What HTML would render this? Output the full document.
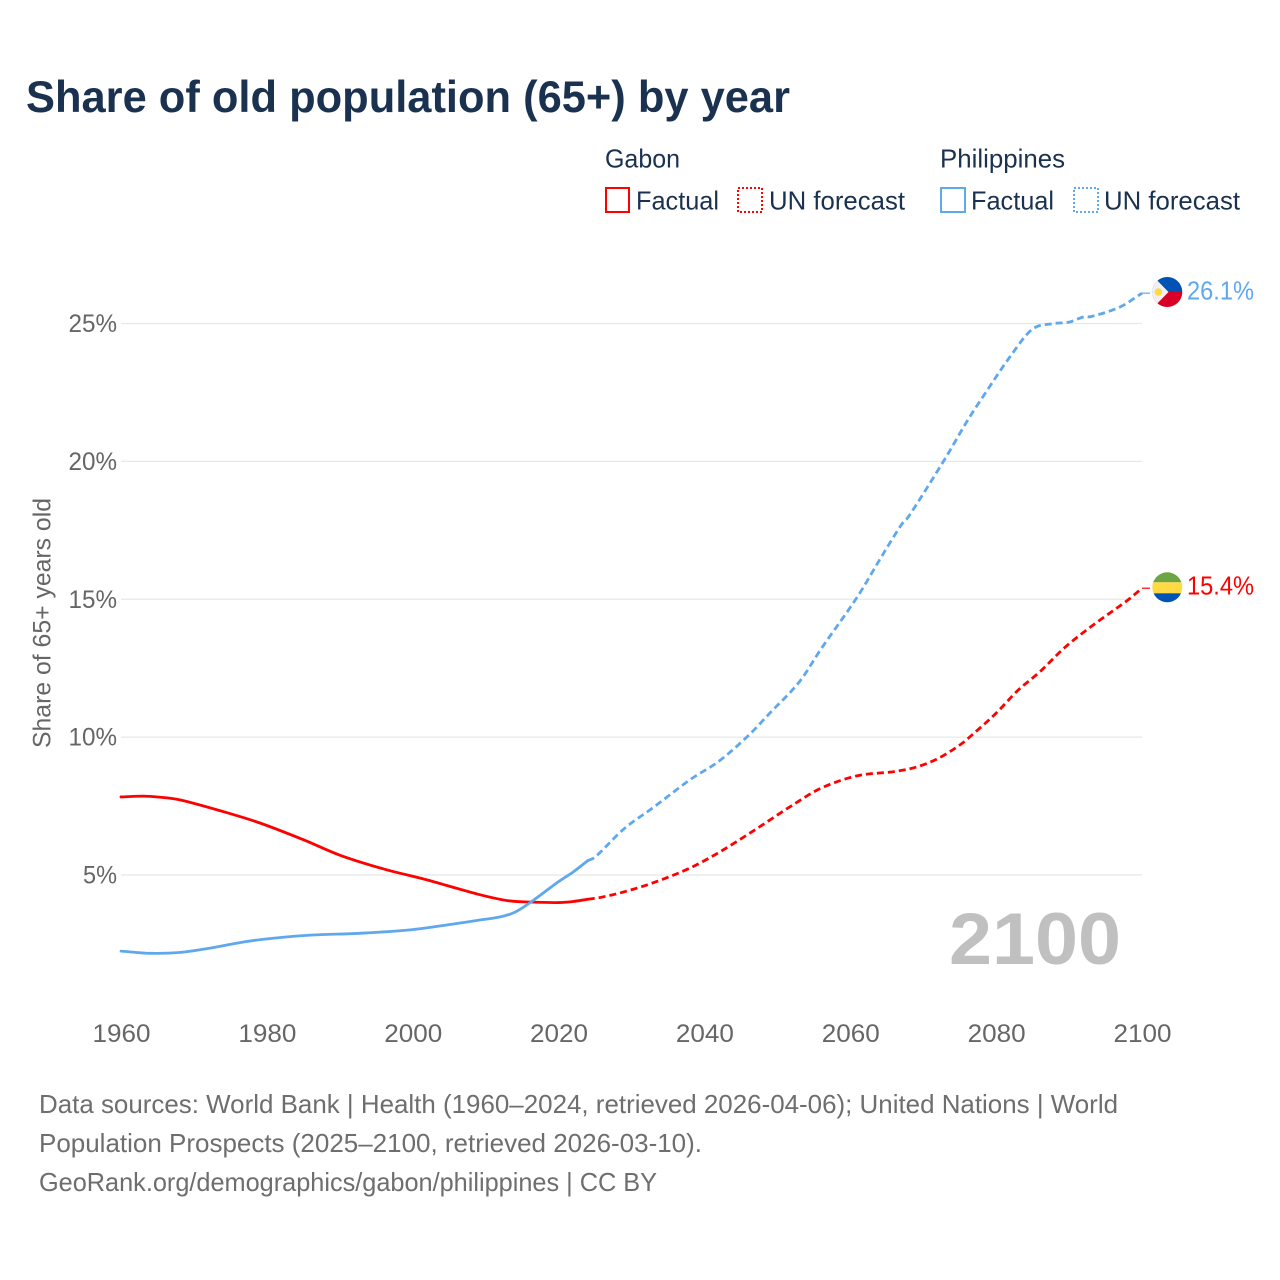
<!DOCTYPE html>
<html lang="en">
<head>
<meta charset="utf-8">
<title>Share of old population (65+) by year</title>
<style>
html,body{margin:0;padding:0;background:#fff}
svg{display:block}
text{font-family:"Liberation Sans",sans-serif}
</style>
</head>
<body>
<svg id="chart" xmlns="http://www.w3.org/2000/svg" width="1280" height="1280" viewBox="0 0 1280 1280">
  <defs>
    <clipPath id="clip-ph"><circle cx="1167.3" cy="292" r="15"/></clipPath>
    <clipPath id="clip-ga"><circle cx="1167.3" cy="587.3" r="15"/></clipPath>
  </defs>
  <rect width="1280" height="1280" fill="#fff"/>
  <text x="26" y="112" font-size="44.5" font-weight="700" fill="#1a3250" textLength="764" lengthAdjust="spacingAndGlyphs">Share of old population (65+) by year</text>

  <g font-size="26" fill="#1a3250">
    <text x="605" y="167.5" textLength="75" lengthAdjust="spacingAndGlyphs">Gabon</text>
    <rect x="606" y="188" width="23" height="24" fill="none" stroke="#ff0000" stroke-width="2"/>
    <text x="636" y="209.5" textLength="83" lengthAdjust="spacingAndGlyphs">Factual</text>
    <rect x="738" y="188" width="24" height="24" fill="none" stroke="#ff0000" stroke-width="2" stroke-dasharray="2 2"/>
    <text x="769" y="209.5" textLength="136" lengthAdjust="spacingAndGlyphs">UN forecast</text>
    <text x="940" y="167.5" textLength="125" lengthAdjust="spacingAndGlyphs">Philippines</text>
    <rect x="941" y="188" width="24" height="24" fill="none" stroke="#5fa8ee" stroke-width="2"/>
    <text x="971" y="209.5" textLength="83" lengthAdjust="spacingAndGlyphs">Factual</text>
    <rect x="1074" y="188" width="24" height="24" fill="none" stroke="#5fa8ee" stroke-width="2" stroke-dasharray="2 2"/>
    <text x="1104" y="209.5" textLength="136" lengthAdjust="spacingAndGlyphs">UN forecast</text>
  </g>

  <g id="grid"></g>
  <g id="yticks"></g>
  <g id="xticks"></g>
  <text transform="translate(50.5 623) rotate(-90)" text-anchor="middle" font-size="25" fill="#666" textLength="250" lengthAdjust="spacingAndGlyphs">Share of 65+ years old</text>

  <text x="949" y="964" font-size="73" font-weight="700" fill="#c0c0c0" textLength="172" lengthAdjust="spacingAndGlyphs">2100</text>

  <g id="series"></g>

  <g clip-path="url(#clip-ph)">
    <rect x="1150" y="275" width="36" height="17" fill="#0052b4"/>
    <rect x="1150" y="292" width="36" height="17" fill="#d80027"/>
    <polygon points="1148,271 1168.5,292 1148,313" fill="#f0f0f0"/>
    <circle cx="1158.3" cy="292" r="3.8" fill="#ffda44"/>
  </g>
  <g clip-path="url(#clip-ga)">
    <rect x="1150" y="571" width="36" height="11.3" fill="#6da544"/>
    <rect x="1150" y="582.3" width="36" height="11" fill="#ffda44"/>
    <rect x="1150" y="593.3" width="36" height="11" fill="#0052b4"/>
  </g>
  <g id="labels"></g>

  <g font-size="26" fill="#6e6e6e">
    <text x="39" y="1113" textLength="1079" lengthAdjust="spacingAndGlyphs">Data sources: World Bank | Health (1960–2024, retrieved 2026-04-06); United Nations | World</text>
    <text x="39" y="1152" textLength="663" lengthAdjust="spacingAndGlyphs">Population Prospects (2025–2100, retrieved 2026-03-10).</text>
    <text x="39" y="1191" textLength="618" lengthAdjust="spacingAndGlyphs">GeoRank.org/demographics/gabon/philippines | CC BY</text>
  </g>
</svg>
<script>
const xTickYears = [1960, 1980, 2000, 2020, 2040, 2060, 2080, 2100];
const yTickValues = [5, 10, 15, 20, 25];

const factualYearsGabon = [1960, 1963, 1965, 1968, 1974, 1979, 1985, 1990, 1996, 2002, 2009, 2013, 2016, 2020, 2022, 2024];
const factualGabon = [7.83, 7.86, 7.83, 7.73, 7.3, 6.89, 6.28, 5.72, 5.22, 4.82, 4.3, 4.07, 4.02, 4.0, 4.04, 4.12];
const forecastYearsGabon = [2024, 2026, 2029, 2033, 2038, 2042, 2047, 2052, 2056, 2061, 2066, 2069, 2072, 2075, 2077, 2080, 2083, 2086, 2089, 2091, 2094, 2098, 2100];
const forecastGabon = [4.12, 4.2, 4.39, 4.72, 5.25, 5.82, 6.65, 7.52, 8.15, 8.6, 8.75, 8.91, 9.22, 9.71, 10.15, 10.87, 11.7, 12.37, 13.15, 13.6, 14.2, 14.96, 15.4];

const factualYearsPhilippines = [1960, 1964, 1968, 1972, 1977, 1981, 1986, 1993, 2000, 2005, 2009, 2012, 2014, 2016, 2020, 2022, 2024];
const factualPhilippines = [2.24, 2.16, 2.19, 2.34, 2.58, 2.71, 2.82, 2.89, 3.02, 3.2, 3.36, 3.48, 3.65, 3.98, 4.76, 5.11, 5.52];
const forecastYearsPhilippines = [2024, 2025, 2029, 2033, 2038, 2042, 2046, 2049, 2053, 2056, 2061, 2064, 2067, 2068, 2073, 2076, 2078, 2082, 2085, 2088, 2090, 2092, 2093, 2097, 2100];
const forecastPhilippines = [5.52, 5.65, 6.68, 7.45, 8.45, 9.13, 10.05, 10.88, 12.0, 13.2, 15.1, 16.42, 17.7, 18.0, 20.1, 21.45, 22.27, 23.83, 24.8, 25.0, 25.05, 25.24, 25.25, 25.6, 26.1];

const finalValueGabon = 15.4;
const finalValuePhilippines = 26.1;

const NS = 'http://www.w3.org/2000/svg';
const xScale = function (year) { return 121 + (year - 1960) * (1142 - 121) / 140; };
const yScale = function (value) { return 875 - (value - 5) * 27.575; };

function make(parent, tag, attrs) {
  const el = document.createElementNS(NS, tag);
  Object.keys(attrs).forEach(function (k) { el.setAttribute(k, attrs[k]); });
  parent.appendChild(el);
  return el;
}
function pathFor(years, values) {
  const pts = years.map(function (y, i) { return [xScale(y), yScale(values[i])]; });
  let d = 'M' + pts[0][0].toFixed(2) + ' ' + pts[0][1].toFixed(2);
  for (let i = 0; i < pts.length - 1; i++) {
    const p0 = pts[Math.max(i - 1, 0)];
    const p1 = pts[i];
    const p2 = pts[i + 1];
    const p3 = pts[Math.min(i + 2, pts.length - 1)];
    const h = p2[0] - p1[0];
    const m1 = (p2[1] - p0[1]) / Math.max(p2[0] - p0[0], 1e-6);
    const m2 = (p3[1] - p1[1]) / Math.max(p3[0] - p1[0], 1e-6);
    d += ' C' + (p1[0] + h / 3).toFixed(2) + ' ' + (p1[1] + m1 * h / 3).toFixed(2) + ' ' +
         (p2[0] - h / 3).toFixed(2) + ' ' + (p2[1] - m2 * h / 3).toFixed(2) + ' ' +
         p2[0].toFixed(2) + ' ' + p2[1].toFixed(2);
  }
  return d;
}

const gridGroup = document.getElementById('grid');
const yGroup = document.getElementById('yticks');
yTickValues.forEach(function (v) {
  const line = make(gridGroup, 'line', { x1: 121, x2: 1142, y1: yScale(v), y2: yScale(v), stroke: '#e8e8e8', 'stroke-width': 1.3 });
  
  
  const label = v + '%';
  const t = make(yGroup, 'text', { x: 117, y: yScale(v) + 8.5, 'text-anchor': 'end', 'font-size': 25, fill: '#666', textLength: (label.length - 1) * 14.5 + 19.5, lengthAdjust: 'spacingAndGlyphs' });
  t.textContent = label;
  
  
});

const xGroup = document.getElementById('xticks');
xTickYears.forEach(function (year) {
  const t = make(xGroup, 'text', { x: xScale(year) + 0.5, y: 1042, 'text-anchor': 'middle', 'font-size': 25, fill: '#666', textLength: 58, lengthAdjust: 'spacingAndGlyphs' });
  t.textContent = String(year);
  
  
});

const seriesGroup = document.getElementById('series');
function drawLine(years, values, color, dashed, name) {
  const p = make(seriesGroup, 'path', { d: pathFor(years, values), fill: 'none', stroke: color, 'stroke-width': 2.8, 'stroke-linejoin': 'round', 'stroke-linecap': dashed ? 'butt' : 'round' });
  if (dashed) p.setAttribute('stroke-dasharray', '7 4');
  
  
}
drawLine(factualYearsGabon, factualGabon, '#ff0000', false, 'line-gabon-factual');
drawLine(forecastYearsGabon, forecastGabon, '#ff0000', true, 'line-gabon-forecast');
drawLine(factualYearsPhilippines, factualPhilippines, '#5fa8ee', false, 'line-philippines-factual');
drawLine(forecastYearsPhilippines, forecastPhilippines, '#5fa8ee', true, 'line-philippines-forecast');

const labelGroup = document.getElementById('labels');
function drawEnd(value, color, name) {
  const y = yScale(value);
  const c = make(labelGroup, 'line', { x1: xScale(2100), x2: 1150, y1: y, y2: y, stroke: color, 'stroke-width': 1.2 });
  
  
  const t = make(labelGroup, 'text', { x: 1187, y: y + 6.5, 'font-size': 26, fill: color, textLength: 67, lengthAdjust: 'spacingAndGlyphs' });
  t.textContent = value.toFixed(1) + '%';
  
  
}
drawEnd(finalValueGabon, '#ff0000', 'gabon');
drawEnd(finalValuePhilippines, '#5fa8ee', 'philippines');
</script>
</body>
</html>
